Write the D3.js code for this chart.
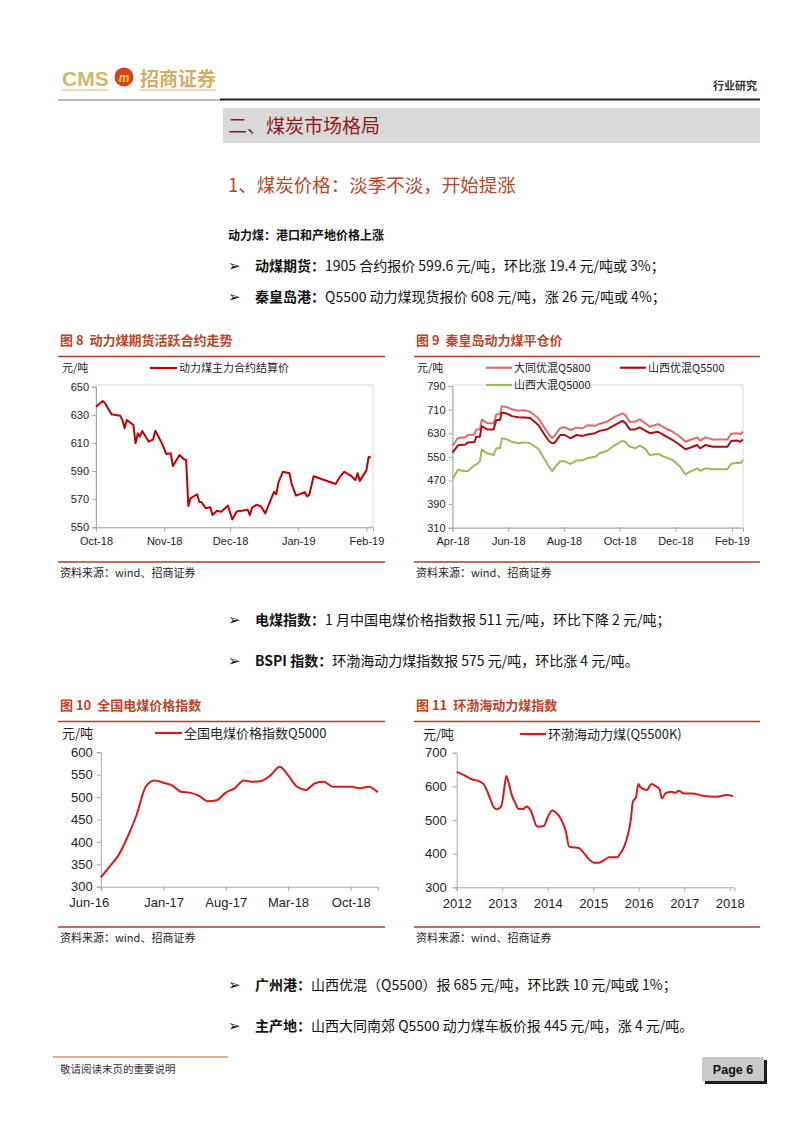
<!DOCTYPE html>
<html><head><meta charset="utf-8">
<script src="https://cdn.jsdelivr.net/npm/d3@7"></script>
<style>
body{margin:0;background:#fff;}
svg text{font-family:"Liberation Sans",Arial,"Noto Sans CJK SC",sans-serif;}
.cjk{font-family:"Noto Sans CJK SC","Liberation Sans",sans-serif;}
</style></head><body>
<script>
// ---------- DATA ----------
// Figure 8: 动力煤主力合约结算价
const f8Dates = ["2018-10-01","2018-10-04","2018-10-05","2018-10-08","2018-10-12","2018-10-13","2018-10-14","2018-10-15","2018-10-18","2018-10-19","2018-10-20","2018-10-21","2018-10-22","2018-10-25","2018-10-27","2018-10-28","2018-10-31","2018-11-02","2018-11-04","2018-11-05","2018-11-08","2018-11-10","2018-11-11","2018-11-12","2018-11-13","2018-11-16","2018-11-17","2018-11-18","2018-11-20","2018-11-22","2018-11-23","2018-11-25","2018-11-27","2018-11-30","2018-12-02","2018-12-04","2018-12-09","2018-12-10","2018-12-11","2018-12-13","2018-12-15","2018-12-17","2018-12-21","2018-12-22","2018-12-23","2018-12-25","2018-12-28","2018-12-29","2018-12-31","2019-01-04","2019-01-05","2019-01-06","2019-01-08","2019-01-18","2019-01-20","2019-01-22","2019-01-25","2019-01-27","2019-01-28","2019-01-29","2019-02-01","2019-02-02","2019-02-03"];
const f8Values = [635.8,639.8,638.6,630.4,629.4,626.3,620.4,626.3,622.8,609.7,616.8,614.4,618.5,610.9,612.6,618.7,609.7,602.1,602.6,593.6,601.4,598.4,597.9,565.1,570.6,573.5,568.2,567.8,563.5,564.2,558.7,561.8,561.1,565.4,555.5,561.3,562.5,558.7,564,566,565,559.9,575.3,573.5,582,589.5,588.4,580.7,572.5,574.9,572,573,586.3,580.8,586,589.5,586.6,583.6,588.4,583,590.5,600,599.6];
const f8Ticks = ["2018-10-01","2018-11-01","2018-12-01","2019-01-01","2019-02-01"];
const f8YTicks = [550,570,590,610,630,650];

// Figure 9: 秦皇岛动力煤平仓价
const f9Dates = ["2018-04-01","2018-04-07","2018-04-15","2018-04-18","2018-04-25","2018-04-27","2018-05-01","2018-05-03","2018-05-09","2018-05-16","2018-05-19","2018-05-23","2018-05-25","2018-05-30","2018-06-05","2018-06-12","2018-06-19","2018-06-25","2018-07-04","2018-07-11","2018-07-16","2018-07-19","2018-07-22","2018-07-28","2018-08-02","2018-08-08","2018-08-15","2018-08-21","2018-08-27","2018-09-04","2018-09-09","2018-09-17","2018-09-26","2018-10-04","2018-10-07","2018-10-12","2018-10-18","2018-10-23","2018-10-29","2018-11-03","2018-11-12","2018-11-17","2018-11-28","2018-12-06","2018-12-12","2018-12-17","2018-12-25","2018-12-28","2019-01-03","2019-01-11","2019-01-27","2019-01-31","2019-02-07","2019-02-10","2019-02-13"];
const f9Q5800 = [588,614,616,624,626,643,643,676,664,664,694,695,721,719,711,706,708,703,681,647,624,614,622,648,650,641,649,646,657,655,662,669,686,697,692,669,669,677,664,652,661,652,635,618,601,607,616,605,616,609,609,628,630,627,635];
const f9Q5500 = [564,589,592,599,600,618,618,654,643,643,675,675,700,697,688,684,683,682,658,624,602,596,598,624,624,613,624,621,626,630,638,643,658,672,666,643,643,650,639,630,635,626,607,590,576,581,590,579,590,584,584,604,605,601,609];
const f9Q5000 = [475,506,501,502,522,524,534,575,562,556,579,579,613,610,601,596,599,596,577,541,515,502,514,535,535,526,538,538,546,550,562,570,590,604,601,585,579,588,577,556,560,553,539,517,491,500,511,503,511,508,508,527,530,528,539];
const f9Series = ["大同优混Q5800","山西优混Q5500","山西大混Q5000"];
const f9Ticks = ["2018-04-01","2018-06-01","2018-08-01","2018-10-01","2018-12-01","2019-02-01"];
const f9YTicks = [310,390,470,550,630,710,790];

// Figure 10: 全国电煤价格指数Q5000 (monthly)
const f10Months = ["2016-06","2016-07","2016-08","2016-09","2016-10","2016-11","2016-12","2017-01","2017-02","2017-03","2017-04","2017-05","2017-06","2017-07","2017-08","2017-09","2017-10","2017-11","2017-12","2018-01","2018-02","2018-03","2018-04","2018-05","2018-06","2018-07","2018-08","2018-09","2018-10","2018-11","2018-12","2019-01"];
const f10Values = [321,345,371,412,460,523,537,532,525,512,510,503,491,493,510,520,537,534,536,549,568,549,523,516,531,534,523,523,523,520,523,511];
const f10Ticks = ["2016-06","2017-01","2017-08","2018-03","2018-10"];
const f10YTicks = [300,350,400,450,500,550,600];

// Figure 11: 环渤海动力煤(Q5500K)
const f11Years = [2012.0,2012.15,2012.33,2012.51,2012.59,2012.66,2012.74,2012.82,2012.88,2012.96,2013.01,2013.05,2013.09,2013.14,2013.21,2013.29,2013.36,2013.47,2013.53,2013.62,2013.69,2013.75,2013.81,2013.92,2013.99,2014.1,2014.18,2014.32,2014.4,2014.47,2014.54,2014.69,2014.8,2014.91,2015.02,2015.13,2015.24,2015.35,2015.53,2015.59,2015.68,2015.76,2015.83,2015.87,2015.94,2015.99,2016.04,2016.18,2016.28,2016.37,2016.46,2016.51,2016.59,2016.7,2016.81,2016.88,2016.99,2017.18,2017.4,2017.7,2017.93,2018.07];
const f11Values = [643,634,621,614,607,589,562,537,532,537,559,599,631,611,574,550,533,533,540,530,505,483,480,483,505,528,522,495,465,421,419,416,401,383,373,373,381,389,389,399,421,455,505,554,567,607,597,589,607,601,591,564,579,584,581,587,579,579,572,569,574,571];
const f11Ticks = [2012,2013,2014,2015,2016,2017,2018];
const f11YTicks = [300,400,500,600,700];

// ---------- PAGE ----------
const svg = d3.select("body").append("svg").attr("width",802).attr("height",1133);
const RUST = "#B8462A", LINE = "#A8412B";

// header
svg.append("text").attr("x",62).attr("y",86).attr("font-size",21).attr("font-weight","bold").attr("fill","#D6B46E").text("CMS");
svg.append("circle").attr("cx",124).attr("cy",77).attr("r",9.5).attr("fill","#D9421A");
svg.append("text").attr("x",124).attr("y",81.5).attr("text-anchor","middle").attr("font-size",12).attr("font-weight","bold").attr("font-style","italic").attr("fill","#F6D24A").text("m");
svg.append("text").attr("class","cjk").attr("x",140).attr("y",86).attr("font-size",19).attr("font-weight","bold").attr("fill","#CFAE66").text("招商证券");
svg.append("line").attr("x1",62).attr("x2",108).attr("y1",90).attr("y2",90).attr("stroke","#D6B46E").attr("stroke-width",1);
svg.append("line").attr("x1",140).attr("x2",216).attr("y1",90).attr("y2",90).attr("stroke","#D6B46E").attr("stroke-width",1);
svg.append("text").attr("class","cjk").attr("x",757).attr("y",90).attr("text-anchor","end").attr("font-size",11).attr("font-weight","bold").attr("fill","#333").text("行业研究");
svg.append("line").attr("x1",58).attr("x2",222).attr("y1",100).attr("y2",100).attr("stroke","#8E6E60").attr("stroke-width",1);
svg.append("line").attr("x1",220).attr("x2",760).attr("y1",99.5).attr("y2",99.5).attr("stroke","#2B2222").attr("stroke-width",2);

svg.append("rect").attr("x",223).attr("y",108).attr("width",537).attr("height",35).attr("fill","#D9D9D9");
svg.append("text").attr("class","cjk").attr("x",228).attr("y",133).attr("font-size",19).attr("fill","#8E1B1B").text("二、煤炭市场格局");
svg.append("text").attr("class","cjk").attr("x",228).attr("y",192).attr("font-size",18.5).attr("fill",RUST).text("1、煤炭价格：淡季不淡，开始提涨");
svg.append("text").attr("class","cjk").attr("x",228).attr("y",240).attr("font-size",12).attr("font-weight","bold").attr("fill","#111").text("动力煤：港口和产地价格上涨");

function bullet(y, bold, rest){
  svg.append("text").attr("x",228).attr("y",y).attr("font-size",15).attr("font-family","DejaVu Sans").attr("fill","#111").text("➢");
  const t = svg.append("text").attr("class","cjk").attr("x",255).attr("y",y).attr("font-size",14).attr("fill","#111");
  t.append("tspan").attr("font-weight","bold").text(bold);
  t.append("tspan").text(rest);
}
bullet(271,"动煤期货：","1905 合约报价 599.6 元/吨，环比涨 19.4 元/吨或 3%；");
bullet(302,"秦皇岛港：","Q5500 动力煤现货报价 608 元/吨，涨 26 元/吨或 4%；");
bullet(625,"电煤指数：","1 月中国电煤价格指数报 511 元/吨，环比下降 2 元/吨；");
bullet(666,"BSPI 指数：","环渤海动力煤指数报 575 元/吨，环比涨 4 元/吨。");
bullet(990,"广州港：","山西优混（Q5500）报 685 元/吨，环比跌 10 元/吨或 1%；");
bullet(1031,"主产地：","山西大同南郊 Q5500 动力煤车板价报 445 元/吨，涨 4 元/吨。");

// footer
svg.append("line").attr("x1",53).attr("x2",228).attr("y1",1057).attr("y2",1057).attr("stroke","#C0652A").attr("stroke-width",1);
svg.append("text").attr("class","cjk").attr("x",60).attr("y",1073).attr("font-size",10.5).attr("fill","#333").text("敬请阅读末页的重要说明");
svg.append("rect").attr("x",705).attr("y",1060).attr("width",62).attr("height",24).attr("fill","#1E1E1E");
svg.append("rect").attr("x",702).attr("y",1057).attr("width",62).attr("height",24).attr("fill","#C9C9C9");
svg.append("text").attr("x",733).attr("y",1074).attr("text-anchor","middle").attr("font-size",12.5).attr("font-weight","bold").attr("fill","#111").text("Page 6");

// ---------- CHART HELPERS ----------
function frame(x0,x1,titleY,title,srcY){
  svg.append("text").attr("class","cjk").attr("x",x0+2).attr("y",titleY).attr("font-size",13).attr("font-weight","bold").attr("fill",RUST).attr("xml:space","preserve").text(title);
  svg.append("line").attr("x1",x0).attr("x2",x1).attr("y1",titleY+11.5).attr("y2",titleY+11.5).attr("stroke",LINE).attr("stroke-width",1.3);
  svg.append("line").attr("x1",x0).attr("x2",x1).attr("y1",srcY).attr("y2",srcY).attr("stroke",LINE).attr("stroke-width",1.3);
  svg.append("text").attr("class","cjk").attr("x",x0+2).attr("y",srcY+15).attr("font-size",11).attr("fill","#222").text("资料来源：wind、招商证券");
}
function styleAxis(g, fs){
  g.selectAll(".domain").attr("stroke","#A6A6A6");
  g.selectAll(".tick line").attr("stroke","#A6A6A6");
  g.selectAll(".tick text").attr("fill","#222").attr("font-size",fs).attr("font-family","\"Liberation Sans\",Arial,sans-serif");
}
function legend(x,y,color,label,fs,w){
  svg.append("line").attr("x1",x).attr("x2",x+w).attr("y1",y).attr("y2",y).attr("stroke",color).attr("stroke-width",2.2);
  svg.append("text").attr("class","cjk").attr("x",x+w+2).attr("y",y+fs*0.36).attr("font-size",fs).attr("fill","#222").text(label);
}
const parse = d3.timeParse("%Y-%m-%d");
const parseM = d3.timeParse("%Y-%m");
const fmtM = d3.timeFormat("%b-%y");

// ---------- FIGURE 8 ----------
frame(58,385,345,"图 8  动力煤期货活跃合约走势",562);
{
  const x = d3.scaleTime().domain([parse("2018-10-01"),parse("2019-02-04")]).range([96,373]);
  const y = d3.scaleLinear().domain([550,650]).range([527.3,386.7]);
  svg.append("rect").attr("x",96).attr("y",385).attr("width",277).attr("height",142.3).attr("fill","none").attr("stroke","#D9D9D9");
  const gx = svg.append("g").attr("transform","translate(0,527.3)").call(d3.axisBottom(x).tickValues(f8Ticks.map(parse)).tickFormat(fmtM).tickSizeOuter(0).tickSize(4).tickPadding(6));
  styleAxis(gx,11);
  const gy = svg.append("g").attr("transform","translate(96,0)").call(d3.axisLeft(y).tickValues(f8YTicks).tickSizeOuter(0).tickSize(4).tickPadding(3));
  styleAxis(gy,11);
  const pts = f8Dates.map((d,i)=>[parse(d),f8Values[i]]);
  svg.append("path").datum(pts).attr("fill","none").attr("stroke","#C00000").attr("stroke-width",2).attr("stroke-linejoin","round")
    .attr("d",d3.line().x(d=>x(d[0])).y(d=>y(d[1])));
  svg.append("text").attr("class","cjk").attr("x",62).attr("y",372).attr("font-size",11).attr("fill","#222").text("元/吨");
  legend(150,368,"#C00000","动力煤主力合约结算价",11,27);
}

// ---------- FIGURE 9 ----------
frame(414,760,345,"图 9  秦皇岛动力煤平仓价",562);
{
  const x = d3.scaleTime().domain([parse("2018-04-01"),parse("2019-02-13")]).range([452.5,743]);
  const y = d3.scaleLinear().domain([310,790]).range([527.7,386]);
  svg.append("rect").attr("x",452.5).attr("y",385).attr("width",290.5).attr("height",142.7).attr("fill","none").attr("stroke","#D9D9D9");
  const gx = svg.append("g").attr("transform","translate(0,527.7)").call(d3.axisBottom(x).tickValues(f9Ticks.map(parse)).tickFormat(fmtM).tickSizeOuter(0).tickSize(4).tickPadding(6));
  styleAxis(gx,11);
  const gy = svg.append("g").attr("transform","translate(452.5,0)").call(d3.axisLeft(y).tickValues(f9YTicks).tickSizeOuter(0).tickSize(4).tickPadding(3));
  styleAxis(gy,11);
  const colors = ["#E06A6A","#A50F15","#9BBB59"];
  [f9Q5800,f9Q5500,f9Q5000].forEach((vals,k)=>{
    const pts = f9Dates.map((d,i)=>[parse(d),vals[i]]);
    svg.append("path").datum(pts).attr("fill","none").attr("stroke",colors[k]).attr("stroke-width",2).attr("stroke-linejoin","round")
      .attr("d",d3.line().x(d=>x(d[0])).y(d=>y(d[1])));
  });
  svg.append("text").attr("class","cjk").attr("x",417).attr("y",372).attr("font-size",11).attr("fill","#222").text("元/吨");
  legend(486,367.7,colors[0],f9Series[0],11,26);
  legend(620,367.7,colors[1],f9Series[1],11,26);
  legend(486,385,colors[2],f9Series[2],11,26);
}

// ---------- FIGURE 10 ----------
frame(58,385,710,"图 10  全国电煤价格指数",927);
{
  const x = d3.scaleTime().domain([parseM("2016-06"),parseM("2019-01")]).range([100.8,377.8]);
  const y = d3.scaleLinear().domain([300,600]).range([886.7,752.3]);
  const gx = svg.append("g").attr("transform","translate(0,886.7)").call(d3.axisBottom(x).tickValues(f10Ticks.map(parseM)).tickFormat(fmtM).tickSizeOuter(0).tickSize(4).tickPadding(7));
  styleAxis(gx,13);
  gx.select(".tick text").attr("text-anchor","end").attr("dx","0.6em");
  const gy = svg.append("g").attr("transform","translate(100.8,0)").call(d3.axisLeft(y).tickValues(f10YTicks).tickSizeOuter(0).tickSize(4).tickPadding(4));
  styleAxis(gy,13);
  const pts = f10Months.map((d,i)=>[parseM(d),f10Values[i]]);
  svg.append("path").datum(pts).attr("fill","none").attr("stroke","#D7191C").attr("stroke-width",2).attr("stroke-linejoin","round")
    .attr("d",d3.line().curve(d3.curveMonotoneX).x(d=>x(d[0])).y(d=>y(d[1])));
  svg.append("text").attr("class","cjk").attr("x",62).attr("y",738).attr("font-size",13).attr("fill","#222").text("元/吨");
  legend(155,733,"#D7191C","全国电煤价格指数Q5000",13,27);
}

// ---------- FIGURE 11 ----------
frame(414,760,710,"图 11  环渤海动力煤指数",927);
{
  const x = d3.scaleLinear().domain([2012,2018.1]).range([456.7,734.3]);
  const y = d3.scaleLinear().domain([300,700]).range([887.3,752.7]);
  const gx = svg.append("g").attr("transform","translate(0,887.3)").call(d3.axisBottom(x).tickValues(f11Ticks).tickFormat(d3.format("d")).tickSizeOuter(0).tickSize(4).tickPadding(7));
  styleAxis(gx,13);
  const gy = svg.append("g").attr("transform","translate(456.7,0)").call(d3.axisLeft(y).tickValues(f11YTicks).tickSizeOuter(0).tickSize(4).tickPadding(6));
  styleAxis(gy,13);
  const pts = f11Years.map((d,i)=>[d,f11Values[i]]);
  svg.append("path").datum(pts).attr("fill","none").attr("stroke","#D7191C").attr("stroke-width",2).attr("stroke-linejoin","round")
    .attr("d",d3.line().curve(d3.curveMonotoneX).x(d=>x(d[0])).y(d=>y(d[1])));
  svg.append("text").attr("class","cjk").attr("x",423).attr("y",739).attr("font-size",13).attr("fill","#222").text("元/吨");
  legend(520,734,"#D7191C","环渤海动力煤(Q5500K)",13,26);
}
</script>
</body></html>
